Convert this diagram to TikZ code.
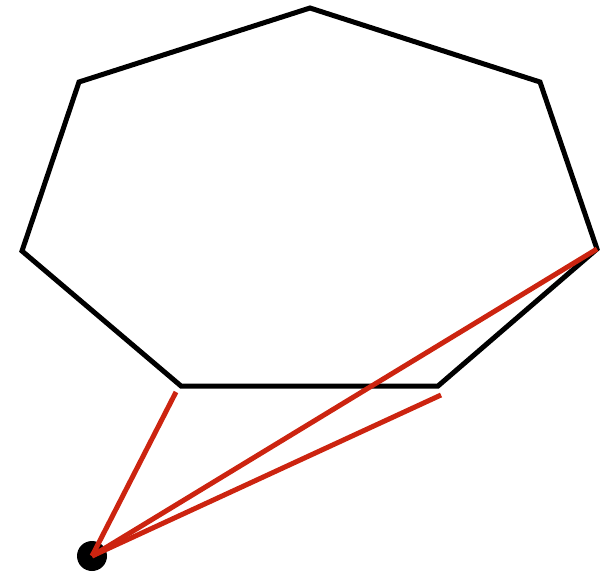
\documentclass[tikz,border=0pt]{standalone}
\definecolor{redline}{RGB}{204,36,16}
\begin{document}
\begin{tikzpicture}[x=1pt,y=-1pt,
  poly/.style={draw=black,line width=5pt,line join=miter},
  ray/.style={draw=redline,line width=5pt},
  dot/.style={circle,fill=black,minimum size=30pt,inner sep=0pt}]
\useasboundingbox (0,0) rectangle (615,578);
\coordinate (v1) at (310,8);
\coordinate (v2) at (540,82);
\coordinate (v3) at (597,249);
\coordinate (v4) at (438,386);
\coordinate (v5) at (181,386);
\coordinate (v6) at (22,251);
\coordinate (v7) at (79,82);
\draw[poly] (v1)--(v2)--(v3)--(v4)--(v5)--(v6)--(v7)--cycle;
\node[dot] (p) at (92,556) {};
\coordinate (a) at (176,392);
\coordinate (b) at (441,395);
\draw[ray] (p.center)--(a);
\draw[ray] (p.center)--(v3);
\draw[ray] (p.center)--(b);
\end{tikzpicture}
\end{document}
